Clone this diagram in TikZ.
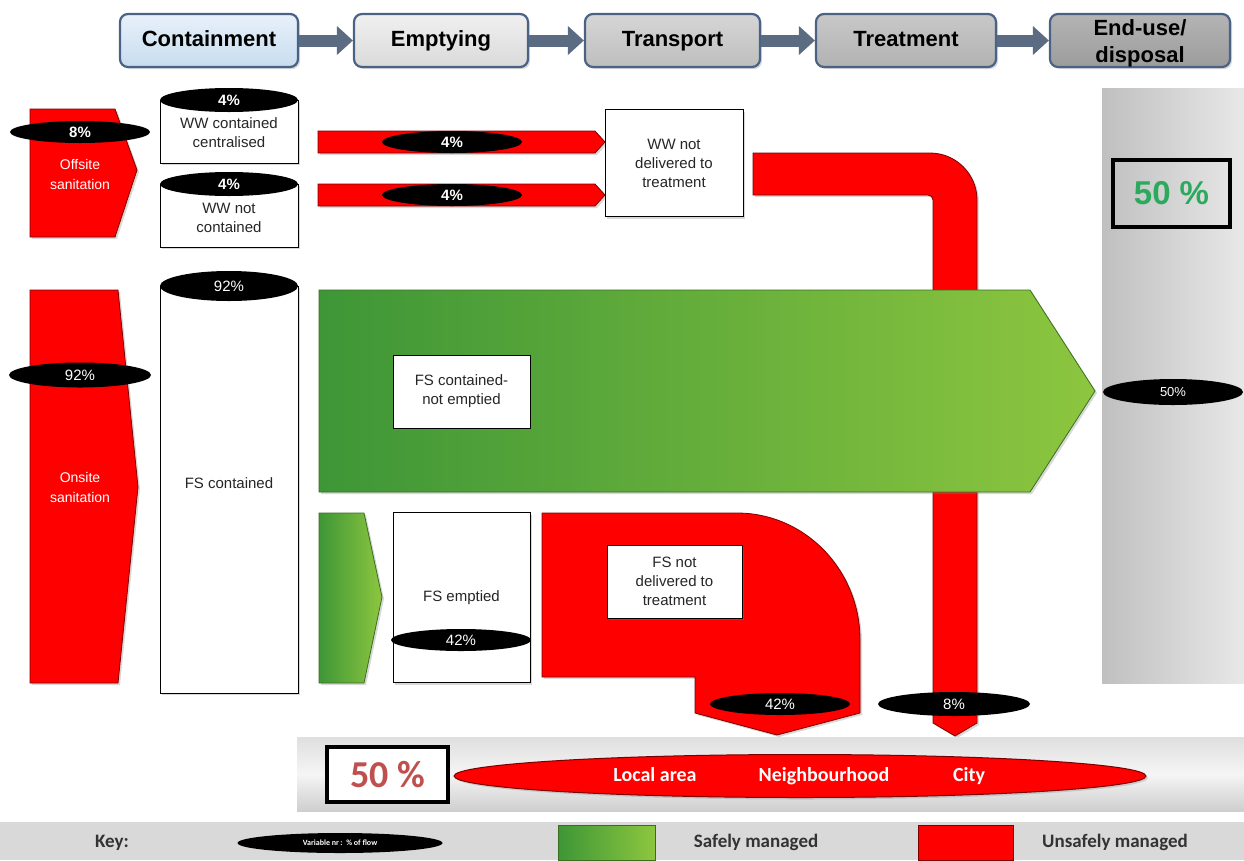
\documentclass[tikz,border=0pt]{standalone}
\usepackage{fontspec}
\setmainfont{Liberation Sans}
\newfontfamily\cfont{Carlito}
\usetikzlibrary{arrows.meta,shadows,shapes.geometric}
\definecolor{hdrborder}{HTML}{4A6283}
\definecolor{hdrarrowc}{HTML}{5B6B82}
\definecolor{flowred}{HTML}{FF0000}
\definecolor{redborder}{HTML}{7A0000}
\definecolor{gdark}{HTML}{3E9637}
\definecolor{glight}{HTML}{8DC63F}
\definecolor{gborder}{HTML}{3A6E1F}
\definecolor{pctgreen}{HTML}{2BAA5E}
\definecolor{pctred}{HTML}{C0504D}
\definecolor{h1top}{HTML}{E8F1FA}\definecolor{h1bot}{HTML}{C8DCEF}
\definecolor{h2top}{HTML}{F0F0F0}\definecolor{h2bot}{HTML}{DADADA}
\definecolor{h3top}{HTML}{D6D6D6}\definecolor{h3bot}{HTML}{BEBEBE}
\definecolor{h4top}{HTML}{C8C8C8}\definecolor{h4bot}{HTML}{B2B2B2}
\definecolor{h5top}{HTML}{B4B4B4}\definecolor{h5bot}{HTML}{9C9C9C}
\begin{document}
\begin{tikzpicture}[x=1pt,y=-1pt,
  myshadow/.style={drop shadow={opacity=0.3,shadow xshift=2pt,shadow yshift=-2pt}},
  hdr/.style={rectangle,rounded corners=8pt,draw=hdrborder,line width=2.2pt,minimum height=53pt,inner sep=0pt,
    font=\fontsize{22}{27}\selectfont\bfseries,align=center,myshadow},
  hdrone/.style={hdr,text height=16pt,text depth=5pt},
  harrow/.style={draw=hdrarrowc,line width=12pt,-{Triangle[length=16pt,width=28pt]}},
  flow/.style={fill=flowred,draw=redborder,line width=0.8pt,myshadow},
  gflow/.style={left color=gdark,right color=glight,draw=gborder,line width=0.8pt,myshadow},
  wbox/.style={rectangle,fill=white,draw=black,line width=0.8pt,inner sep=0pt,myshadow},
  stxt/.style={font=\fontsize{15}{19}\selectfont,align=center,text=black!85},
  wtxt/.style={font=\fontsize{14}{20}\selectfont,align=center,text=white},
  pct/.style={ellipse,fill=black,text=white,inner sep=0pt,font=\fontsize{15}{15}\selectfont},
  pctb/.style={pct,font=\fontsize{15}{15}\selectfont\bfseries},
  ctxt/.style={font=\cfont\bfseries\fontsize{20}{22}\selectfont,text=white,text height=14pt,text depth=4pt},
  ktxt/.style={font=\cfont\bfseries\fontsize{19}{21}\selectfont,text=black!80,text height=13pt,text depth=4pt}
]
\useasboundingbox (0,0) rectangle (1244,860);
\fill[white] (0,0) rectangle (1244,860);

% ---------- header ----------
\node[hdrone,top color=h1top,bottom color=h1bot,minimum width=178pt] (h1) at (209,40.5) {Containment};
\node[hdrone,top color=h2top,bottom color=h2bot,minimum width=174pt] (h2) at (441,40.5) {Emptying};
\node[hdrone,top color=h3top,bottom color=h3bot,minimum width=175pt] (h3) at (672.5,40.5) {Transport};
\node[hdrone,top color=h4top,bottom color=h4bot,minimum width=180pt] (h4) at (906,40.5) {Treatment};
\node[hdr,top color=h5top,bottom color=h5bot,minimum width=180pt] (h5) at (1140,40.5) {};
\node[font=\fontsize{22}{27}\selectfont\bfseries,align=center] (h5t) at (1140,43) {End-use/\\disposal};
\draw[harrow] (h1.east) -- (h2.west);
\draw[harrow] (h2.east) -- (h3.west);
\draw[harrow] (h3.east) -- (h4.west);
\draw[harrow] (h4.east) -- (h5.west);

% ---------- right panel ----------
\shade[left color=gray!50,right color=gray!18] (1102,88) rectangle (1244,683);
\node[rectangle,draw=black,line width=3.5pt,minimum width=117pt,minimum height=67pt,inner sep=0pt,
  text=pctgreen,font=\fontsize{33}{33}\selectfont\bfseries] (g50) at (1171.5,193.5) {50 \%};

% ---------- offsite ----------
\fill[flow] (30,109) -- (115,109) -- (137,170) -- (115,237) -- (30,237) -- cycle;
\node[wtxt] (offs) at (80,174) {Offsite\\sanitation};
\node[pctb,minimum width=140pt,minimum height=22pt] (p8) at (80,132) {8\%};

% ---------- cylinders ----------
\node[wbox,minimum width=138pt,minimum height=63pt] (c1) at (229,131.5) {};
\node[stxt] (c1t) at (229,133) {WW contained\\centralised};
\node[pctb,minimum width=138pt,minimum height=24pt] (c1p) at (229,100) {4\%};
\node[wbox,minimum width=138pt,minimum height=63pt] (c2) at (229,215.5) {};
\node[stxt] (c2t) at (229,218) {WW not\\contained};
\node[pctb,minimum width=138pt,minimum height=24pt] (c2p) at (229,184) {4\%};

% ---------- WW flows ----------
\fill[flow] (318,131) -- (595,131) -- (605,142) -- (595,153) -- (318,153) -- cycle;
\fill[flow] (318,184) -- (595,184) -- (605,195) -- (595,206) -- (318,206) -- cycle;
\node[pctb,minimum width=140pt,minimum height=22pt] (w1p) at (452,142) {4\%};
\node[pctb,minimum width=140pt,minimum height=22pt] (w2p) at (452,195) {4\%};
\node[wbox,minimum width=138pt,minimum height=107pt,stxt] (wwnd) at (674,163) {WW not\\delivered to\\treatment};

% ---------- red pipe ----------
\fill[flow] (753,153) -- (930,153) arc[start angle=-90,end angle=0,radius=47] -- (977,723) -- (955,736)
  -- (933,723) -- (933,200) arc[start angle=0,end angle=-90,radius=5] -- (753,195) -- cycle;

% ---------- onsite ----------
\fill[flow] (30,290) -- (118,290) -- (138,487) -- (118,683) -- (30,683) -- cycle;
\node[wtxt] (ons) at (80,487) {Onsite\\sanitation};
\node[pct,minimum width=142pt,minimum height=25pt] (p92a) at (80,375) {92\%};

\node[wbox,minimum width=138pt,minimum height=407pt] (c3) at (229,489.5) {};
\node[stxt] (c3t) at (229,483) {FS contained};
\node[pct,minimum width=138pt,minimum height=30pt] (p92b) at (229,286) {92\%};

% ---------- green flows ----------
\shade[gflow] (319,290) -- (1030,290) -- (1095,391) -- (1030,492) -- (319,492) -- cycle;
\node[wbox,minimum width=137pt,minimum height=73pt,stxt] (fscne) at (461.5,391.5) {FS contained-\\not emptied};
\shade[gflow] (319,513) -- (364,513) -- (382,597) -- (364,683) -- (319,683) -- cycle;

\node[wbox,minimum width=137pt,minimum height=170pt] (fse) at (461.5,597.5) {};
\node[stxt] (fset) at (461.5,598) {FS emptied};
\node[pct,minimum width=140pt,minimum height=22pt] (p42a) at (461,640) {42\%};

% ---------- FS not delivered ----------
\fill[flow] (542,513) -- (737,513) arc[start angle=-90,end angle=0,x radius=123,y radius=127]
  -- (860,713) -- (777,735) -- (695,713) -- (695,677) -- (542,677) -- cycle;
\node[wbox,minimum width=135pt,minimum height=73pt,stxt] (fsnd) at (674.5,581.5) {FS not\\delivered to\\treatment};
\node[pct,minimum width=140pt,minimum height=22pt] (p42b) at (780,704) {42\%};
\node[pct,minimum width=152pt,minimum height=24pt] (p8b) at (954,704) {8\%};

\node[pct,minimum width=140pt,minimum height=26pt,font=\fontsize{13}{13}\selectfont] (p50) at (1173,392) {50\%};

% ---------- bottom bar ----------
\shade[top color=gray!25,bottom color=gray!38,middle color=gray!8] (297,737) rectangle (1244,811);
\node[rectangle,fill=white,draw=black,line width=4pt,minimum width=121pt,minimum height=55pt,inner sep=0pt,
  text=pctred,font=\cfont\bfseries\fontsize{38}{38}\selectfont] (r50) at (387.5,774.5) {50 \%};
\node[ellipse,fill=flowred,draw=redborder,line width=1pt,minimum width=692pt,minimum height=43pt,inner sep=0pt,myshadow] (area) at (800,776) {};
\node[ctxt] (la) at (655,776) {Local area};
\node[ctxt] (nb) at (824,776) {Neighbourhood};
\node[ctxt] (ct) at (969,776) {City};

% ---------- key ----------
\fill[gray!30] (0,822) rectangle (1244,860);
\node[ktxt] (key) at (112,843) {Key:};
\node[ellipse,fill=black,text=white,inner sep=0pt,minimum width=205pt,minimum height=20pt,
  font=\cfont\bfseries\fontsize{8}{8}\selectfont] (keyp) at (340,843) {Variable nr\,:\, \% of flow};
\shade[left color=gdark,right color=glight,draw=gborder,line width=0.8pt] (558,825) rectangle (655,860);
\node[ktxt] (ks) at (756,843) {Safely managed};
\fill[flowred,draw=redborder,line width=0.8pt] (918,825) rectangle (1013,860);
\node[ktxt] (ku) at (1115,843) {Unsafely managed};
\end{tikzpicture}
\end{document}
